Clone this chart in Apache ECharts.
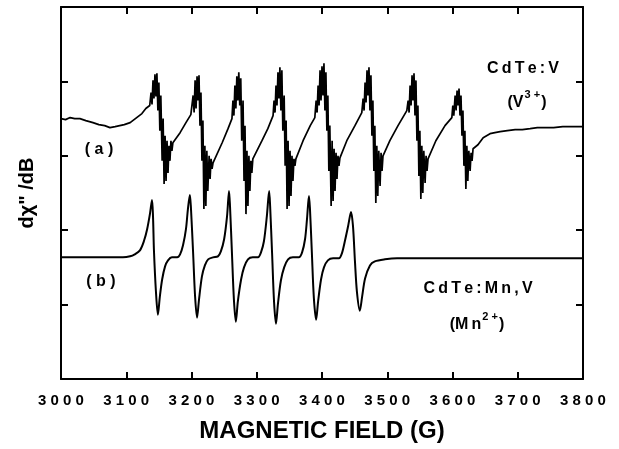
<!DOCTYPE html>
<html>
<head>
<meta charset="utf-8">
<script src="https://cdn.jsdelivr.net/npm/echarts@6/dist/echarts.min.js"></script>
<style>
  html, body { margin: 0; padding: 0; background: #fff; }
  #chart { width: 619px; height: 449px; }
</style>
</head>
<body>
<div id="chart"></div>
<script>
// field axis (G)
var fieldTicks = [3000, 3100, 3200, 3300, 3400, 3500, 3600, 3700, 3800];

// (a) CdTe:V  -- [field G, signal arb. units]
var traceA = [
  [3000, 259], [3007, 258], [3014, 260], [3021, 259], [3029, 259], [3038, 257], [3049, 255],
  [3058, 253], [3067, 252], [3075, 250], [3083, 251], [3090, 252], [3097, 253], [3106, 255],
  [3112, 258], [3116, 260], [3124, 264], [3130, 269], [3136, 272],
  // line 1
  [3138, 285], [3139.5, 273], [3141, 297], [3142.5, 279], [3144, 303], [3145.5, 281], [3147, 304],
  [3148.5, 267], [3150, 295], [3151.5, 247], [3153, 282], [3155, 217], [3156.5, 259], [3158, 194],
  [3159.5, 242], [3161, 197], [3162.5, 237], [3164, 205], [3165.5, 232], [3167, 217], [3168.5, 237],
  [3170, 227], [3171.5, 235],
  [3182.5, 245], [3191.5, 255], [3199, 263],
  // line 2
  [3201, 264], [3202.5, 282], [3204, 265], [3205.5, 297], [3207, 269], [3208.5, 301], [3210, 277],
  [3211.5, 302], [3213, 252], [3214.5, 285], [3216, 217], [3217.5, 257], [3219, 169], [3220.5, 232],
  [3222, 172], [3223.5, 227], [3225, 187], [3227, 222], [3228.5, 199], [3230, 219], [3231.5, 209],
  [3233, 215],
  [3247, 235], [3256, 249], [3262, 259],
  // line 3
  [3263.5, 277], [3265, 262], [3266.5, 292], [3268, 269], [3269.5, 301], [3271, 277], [3272.5, 305],
  [3274, 272], [3275.5, 299], [3277, 237], [3279, 277], [3280.5, 197], [3282, 252], [3283.5, 164],
  [3285, 227], [3286.5, 172], [3288, 222], [3289.5, 187], [3291, 217], [3292.5, 205], [3294, 219],
  [3308, 237], [3317, 249], [3325, 262],
  // line 4
  [3326.5, 277], [3328, 265], [3329.5, 292], [3331, 272], [3332.5, 305], [3334, 279], [3335.5, 310],
  [3337, 267], [3338.5, 307], [3340, 247], [3342, 282], [3343.5, 212], [3345, 257], [3346.5, 169],
  [3348, 237], [3349.5, 172], [3351, 227], [3352.5, 182], [3354, 222], [3355.5, 197], [3357, 219],
  [3358.5, 212], [3360, 219],
  [3371, 237], [3382, 252], [3389, 260],
  // line 5
  [3391, 277], [3392.5, 265], [3394, 292], [3395.5, 272], [3397, 307], [3398.5, 277], [3400, 311],
  [3401.5, 282], [3403, 314], [3404.5, 267], [3406, 305], [3407.5, 247], [3409, 282], [3410.5, 207],
  [3412, 252], [3414, 172], [3415.5, 237], [3417, 177], [3418.5, 229], [3420, 187], [3421.5, 225],
  [3423, 199], [3424.5, 222], [3426, 212], [3427.5, 220],
  [3438, 237], [3450.5, 252], [3461, 265],
  // line 6
  [3463, 279], [3464.5, 267], [3466, 295], [3467.5, 275], [3469, 307], [3470.5, 282], [3472, 310],
  [3473.5, 267], [3475, 302], [3476.5, 242], [3478, 277], [3479.5, 207], [3481, 252], [3482.5, 175],
  [3484, 232], [3485.5, 182], [3487, 227], [3489, 192], [3490.5, 225], [3492, 207], [3493.5, 222],
  [3504, 237], [3516.5, 252], [3530, 267],
  // line 7
  [3532, 277], [3533.5, 265], [3535, 292], [3536.5, 272], [3538, 302], [3539.5, 277], [3541, 304],
  [3542.5, 262], [3544, 297], [3545.5, 237], [3547, 272], [3548.5, 202], [3550, 247], [3551.5, 179],
  [3553, 232], [3554.5, 185], [3556, 227], [3558, 195], [3559.5, 222], [3561, 207], [3562.5, 219],
  [3574.5, 237], [3588.5, 252], [3599, 260],
  // line 8
  [3600.5, 272], [3602, 262], [3604, 282], [3605.5, 267], [3607, 287], [3608.5, 272], [3610, 289],
  [3611.5, 262], [3613, 282], [3614.5, 242], [3616, 267], [3617.5, 212], [3619, 247], [3620.5, 189],
  [3622, 232], [3623.5, 197], [3625, 227], [3627, 207], [3628.5, 225], [3630, 217], [3631.5, 229],
  [3639, 233], [3647, 240], [3657.5, 244], [3665, 245], [3673, 246], [3684, 247], [3696, 248],
  [3707, 248], [3719, 249], [3730, 250], [3742, 250], [3755, 250], [3769, 251], [3787, 251],
  [3800, 251]
];

// (b) CdTe:Mn,V
var traceB = [
  [3000, 121], [3095, 121], [3106, 122], [3113, 124], [3121, 128], [3127, 137], [3132, 149],
  [3136.5, 165], [3139.5, 178], [3141, 162], [3142.5, 127], [3145.5, 87], [3148.5, 64], [3151.5, 82],
  [3155, 99], [3159.5, 112], [3164, 118], [3170, 121], [3178, 121],
  [3182.5, 124], [3187, 133], [3191.5, 149], [3194.5, 169], [3197.5, 183], [3199, 172], [3202.5, 125],
  [3205.5, 82], [3208.5, 61], [3211.5, 79], [3216, 102], [3220.5, 113], [3225.5, 119], [3233, 121],
  [3240.5, 122], [3245, 127], [3250, 139], [3254.5, 162], [3257.5, 187], [3259, 172], [3262, 125],
  [3265, 79], [3268, 57], [3271, 77], [3276, 99], [3280.5, 111], [3286.5, 119], [3294, 121],
  [3302, 121], [3306.5, 126], [3311, 137], [3315.5, 162], [3319, 187], [3320.5, 172], [3323.5, 125],
  [3326.5, 77], [3329.5, 55], [3332.5, 75], [3337, 98], [3342, 111], [3348, 119], [3355.5, 121],
  [3364.5, 121], [3369.5, 126], [3374, 139], [3377, 159], [3380, 182], [3381.5, 170], [3384.5, 125],
  [3387.5, 81], [3391, 59], [3394, 77], [3398.5, 99], [3403, 111], [3409, 118], [3417, 120],
  [3426, 120], [3430.5, 125], [3435, 137], [3440, 152], [3444.5, 166], [3447.5, 152], [3450.5, 117],
  [3453.5, 87], [3458, 68], [3461.5, 82], [3466, 100], [3473.5, 113], [3481, 117], [3496.5, 119],
  [3515, 120], [3800, 120]
];

var chart = echarts.init(document.getElementById('chart'));

function spaced(v) {
  return String(v).split('').join(' ');
}

var frameAxis = {
  axisLine: { show: true, onZero: false, lineStyle: { color: '#000', width: 2 } },
  axisTick: { show: true, inside: true, length: 7, lineStyle: { color: '#000', width: 2 } },
  splitLine: { show: false }
};

var option = {
  animation: false,
  backgroundColor: '#fff',
  grid: { left: 61, right: 36, top: 7, bottom: 70 },
  xAxis: [
    Object.assign({}, frameAxis, {
      type: 'value', min: 3000, max: 3800, interval: 100, position: 'bottom',
      axisLabel: {
        color: '#000', fontSize: 15, fontWeight: 'bold', fontFamily: 'Arial, Liberation Sans',
        margin: 14,
        formatter: function (v) { return spaced(v); }
      },
      name: 'MAGNETIC FIELD (G)', nameLocation: 'middle', nameGap: 40,
      nameTextStyle: { color: '#000', fontSize: 24, fontWeight: 'bold', fontFamily: 'Arial, Liberation Sans' }
    }),
    Object.assign({}, frameAxis, {
      type: 'value', min: 3000, max: 3800, interval: 100, position: 'top',
      axisLabel: { show: false }
    })
  ],
  yAxis: [
    Object.assign({}, frameAxis, {
      type: 'value', min: 0, max: 370, interval: 74, position: 'left',
      axisLabel: { show: false },
      name: 'd\u03c7" /dB', nameLocation: 'middle', nameGap: 24,
      nameTextStyle: { color: '#000', fontSize: 20, fontWeight: 'bold', fontFamily: 'Arial, Liberation Sans' }
    }),
    Object.assign({}, frameAxis, {
      type: 'value', min: 0, max: 370, interval: 74, position: 'right',
      axisLabel: { show: false }
    })
  ],
  series: [
    {
      name: 'CdTe:V', type: 'line', data: traceA, showSymbol: false, symbol: 'none',
      lineStyle: { color: '#000', width: 1.7 }, z: 3
    },
    {
      name: 'CdTe:Mn,V', type: 'line', data: traceB, showSymbol: false, symbol: 'none', smooth: 0.3,
      lineStyle: { color: '#000', width: 2 }, z: 3
    }
  ],
  graphic: [
    { type: 'text', x: 523, y: 69, style: { text: 'C\u2009d\u2009T\u2009e\u2009:\u2009V', fill: '#000',
        font: 'bold 16px Arial, Liberation Sans', align: 'center', verticalAlign: 'middle' } },
    { type: 'text', x: 527, y: 100, style: {
        text: '{m|(V}{s|3 +}{m|)}', align: 'center', verticalAlign: 'middle',
        rich: {
          m: { fill: '#000', font: 'bold 16px Arial, Liberation Sans', lineHeight: 22, verticalAlign: 'bottom' },
          s: { fill: '#000', font: 'bold 11px Arial, Liberation Sans', lineHeight: 22, verticalAlign: 'top', padding: [0, 1, 0, 1] }
        } } },
    { type: 'text', x: 99, y: 150, style: { text: '( a )', fill: '#000',
        font: 'bold 16px Arial, Liberation Sans', align: 'center', verticalAlign: 'middle' } },
    { type: 'text', x: 101, y: 282, style: { text: '( b )', fill: '#000',
        font: 'bold 16px Arial, Liberation Sans', align: 'center', verticalAlign: 'middle' } },
    { type: 'text', x: 478, y: 289, style: { text: 'C\u2009d\u2009T\u2009e\u2009:\u2009M\u2009n\u2009,\u2009V', fill: '#000',
        font: 'bold 16px Arial, Liberation Sans', align: 'center', verticalAlign: 'middle' } },
    { type: 'text', x: 477, y: 322, style: {
        text: '{m|(M\u2009n}{s|2 +}{m|)}', align: 'center', verticalAlign: 'middle',
        rich: {
          m: { fill: '#000', font: 'bold 16px Arial, Liberation Sans', lineHeight: 22, verticalAlign: 'bottom' },
          s: { fill: '#000', font: 'bold 11px Arial, Liberation Sans', lineHeight: 22, verticalAlign: 'top', padding: [0, 1, 0, 1] }
        } } }
  ]
};

chart.setOption(option);
</script>
</body>
</html>
